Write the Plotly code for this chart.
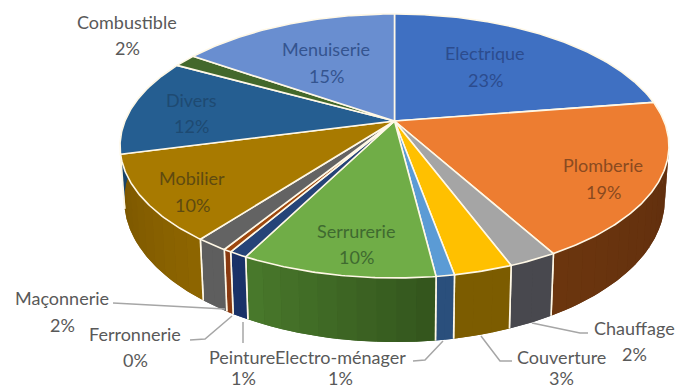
import numpy as np
import plotly.graph_objects as go

# --- data -----------------------------------------------------------------
categories = ["Electrique", "Plomberie", "Chauffage", "Couverture", "Electro-ménager",
              "Serrurerie", "Peinture", "Ferronnerie", "Maçonnerie", "Mobilier",
              "Divers", "Combustible", "Menuiserie"]
values = [22.6, 19.2, 2.4, 2.9, 0.9, 9.6, 0.9, 0.4, 1.6, 10.5, 11.9, 1.6, 15.5]
percent_labels = ["23%", "19%", "2%", "3%", "1%", "10%", "1%", "0%", "2%", "10%", "12%", "2%", "15%"]

# --- style ----------------------------------------------------------------
top_colors = ["#3F70C2", "#ED7D31", "#A5A5A5", "#FFC000", "#5B9BD5", "#70AD47", "#264478",
              "#9E480E", "#636363", "#A87A00", "#255E91", "#43682B", "#698ED0"]
side_from = ["#2A4A80", "#5C2C0E", "#48484E", "#7C5C00", "#2A4F7C", "#33551D", "#1A3268",
             "#8A3A10", "#5E5E5E", "#8E6600", "#1A4468", "#2C4520", "#46608C"]
side_to = ["#2A4A80", "#6C360F", "#48484E", "#7C5C00", "#2A4F7C", "#4A7A2C", "#1A3268",
           "#8A3A10", "#5E5E5E", "#7A5600", "#1A4468", "#2C4520", "#46608C"]
text_colors = ["#2C4C8E", "#8A4A20", "#595959", "#595959", "#595959", "#3F6A30", "#595959",
               "#595959", "#595959", "#5E4A10", "#1E4A72", "#595959", "#34548F"]
label_x = [485, 603, 634, 561, 340, 356, 242, 135, 62, 192, 191, 127, 326]
label_y = [53, 165, 328, 357, 357, 231, 357, 334, 298, 178, 100, 22, 49]
second_x = [485, 603, 634, 561, 340, 356, 243, 135, 62, 192, 191, 127, 326]
second_y = [80, 192, 354, 378, 378, 257, 378, 360, 325, 205, 126, 48, 76]
leaders = {
    "Chauffage": ([532, 580, 588], [323, 333, 333]),
    "Couverture": ([481, 500, 512], [336, 361, 361]),
    "Electro-ménager": ([443, 425, 413], [341, 360, 361]),
    "Peinture": ([243, 243], [322, 343]),
    "Ferronnerie": ([232, 205, 190], [316, 339, 340]),
    "Maçonnerie": ([225, 120, 113], [309, 304, 303]),
}
CX, CY = 394.5, 121.0
A, B, K = 269.5, 127.3, 0.189   # perspective pie plane
DEPTH, BOTTOM_SCALE = 52.0, 0.985
EDGE = "#FFF8E6"
FONT_SIZE = 18


def hex_rgb(h):
    return np.array([int(h[i:i + 2], 16) for i in (1, 3, 5)], float)


def mix(c1, c2, t):
    r = hex_rgb(c1) * (1 - t) + hex_rgb(c2) * t
    return "rgb(%d,%d,%d)" % tuple(r)


def rim(theta, bottom=False):
    u, v = np.sin(theta), np.cos(theta)
    d = 1 + K * v
    x, y = A * u / d, B * v / d
    if bottom:
        return CX + x * BOTTOM_SCALE, CY - y + DEPTH / d
    return CX + x, CY - y


edges = np.cumsum([0] + values) / sum(values) * 2 * np.pi
fig = go.Figure()


def poly(x, y, fill, line=None, width=0):
    fig.add_trace(go.Scatter(x=list(x), y=list(y), mode="lines", fill="toself", fillcolor=fill,
                             line=dict(color=line or fill, width=width), hoverinfo="skip", showlegend=False))


# walls: a base face, then strips over it so each face can carry its shading
for i in range(len(values)):
    a0, a1 = edges[i], edges[i + 1]
    if np.cos((a0 + a1) / 2) > 0.35:
        continue
    th = np.linspace(a0, a1, 60)
    xa, ya = rim(th)
    xb, yb = rim(th[::-1], True)
    poly(np.r_[xa, xb, xa[0]], np.r_[ya, yb, ya[0]], mix(side_from[i], side_to[i], 0.5))
    n = max(2, int((a1 - a0) / 0.06))
    ts = np.linspace(a0, a1, n + 1)
    for j in range(n):
        col = mix(side_from[i], side_to[i], (j + 0.5) / n)
        xa, ya = rim(np.linspace(ts[j], ts[j + 1], 4))
        xb, yb = rim(np.linspace(ts[j + 1], ts[j], 4), True)
        poly(np.r_[xa, xb, xa[0]], np.r_[ya, yb, ya[0]], col)
    for t in (a0, a1):
        xt, yt = rim(t)
        xb, yb = rim(t, True)
        if np.cos(t) < -0.2:
            fig.add_trace(go.Scatter(x=[xt, xb], y=[yt, yb], mode="lines", line=dict(color=EDGE, width=1.6),
                                     hoverinfo="skip", showlegend=False))

# top faces
for i in range(len(values)):
    th = np.linspace(edges[i], edges[i + 1], max(3, int((edges[i + 1] - edges[i]) / 0.01)))
    x, y = rim(th)
    poly(np.r_[CX, x, CX], np.r_[CY, y, CY], top_colors[i], EDGE, 1.6)

# leader lines
for name, (lx, ly) in leaders.items():
    fig.add_trace(go.Scatter(x=lx, y=ly, mode="lines", line=dict(color="#A6A6A6", width=1.5),
                             hoverinfo="skip", showlegend=False))

# labels
for i, name in enumerate(categories):
    fig.add_annotation(x=label_x[i], y=label_y[i], text=name, showarrow=False,
                       font=dict(family="Lato", size=FONT_SIZE, color=text_colors[i]))
    fig.add_annotation(x=second_x[i], y=second_y[i], text=percent_labels[i], showarrow=False,
                       font=dict(family="Lato", size=FONT_SIZE, color=text_colors[i]))

fig.update_layout(width=678, height=389, margin=dict(l=0, r=0, t=0, b=0),
                  paper_bgcolor="white", plot_bgcolor="white", hovermode=False,
                  xaxis=dict(range=[0, 678], visible=False, fixedrange=True),
                  yaxis=dict(range=[389, 0], visible=False, fixedrange=True))
fig.write_html("out.html", config={"displayModeBar": False},
               post_script="document.body.style.margin='0';document.body.style.overflow='hidden';")
